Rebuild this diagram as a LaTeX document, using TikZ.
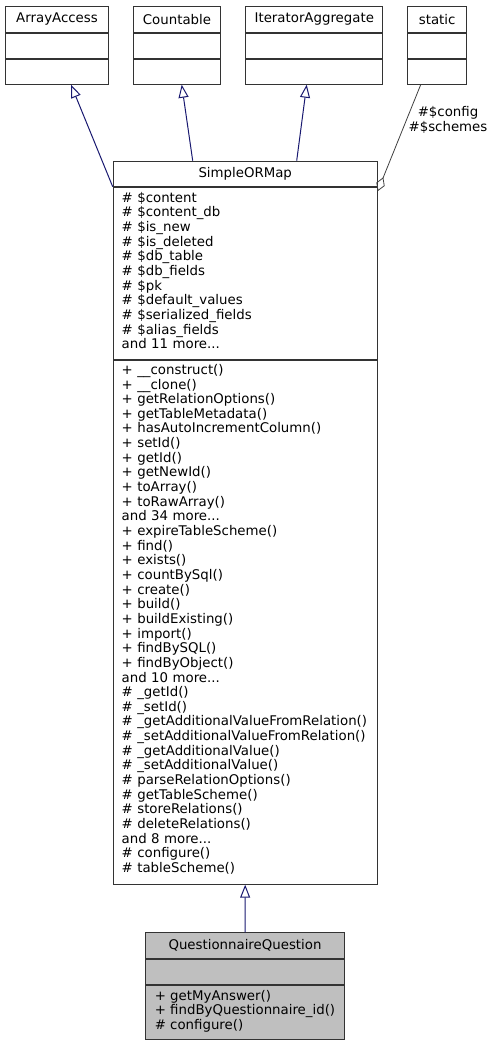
\documentclass[tikz,border=0pt]{standalone}
\usepackage{fontspec}
\setmainfont{DejaVu Sans}
\usetikzlibrary{arrows.meta}
\hyphenpenalty=10000

\definecolor{edgeblue}{HTML}{191970}
\definecolor{usegray}{HTML}{404040}
\definecolor{boxline}{HTML}{333333}
\definecolor{childfill}{HTML}{BFBFBF}

\begin{document}
\begin{tikzpicture}[
    x=1pt, y=-1pt,
    every node/.style = {font=\fontsize{13.33}{14.65}\selectfont},
    part/.style       = {draw=boxline, line width=1pt, fill=white,
                         inner sep=0pt, anchor=north west},
    hdr/.style        = {part, align=center},
    lst/.style        = {part, align=left},
    child/.style      = {fill=childfill},
    inherit/.style    = {draw=edgeblue, line width=1pt,
                         -{Triangle[open, length=13pt, width=10pt]}},
    usage/.style      = {draw=usegray, line width=0.8pt,
                         -{Diamond[open, length=15pt, width=9pt]}},
    ann/.style        = {align=center, inner sep=0pt},
]
\useasboundingbox (0,0) rectangle (491,1044);

% ============================================================
%  INTERFACES  (top row)
% ============================================================

% ---- ArrayAccess -------------------------------------------
\node[hdr, minimum width=103pt, text width=99pt, minimum height=26pt] (aaH) at (5,5.7) {ArrayAccess};
\node[part, minimum width=103pt, minimum height=25pt] (aaA) at (aaH.south west) {};
\node[part, minimum width=103pt, minimum height=25pt] (aaM) at (aaA.south west) {};

% ---- Countable ---------------------------------------------
\node[hdr, minimum width=87.6pt, text width=84pt, minimum height=26pt] (ctH) at (132.7,5.7) {Countable};
\node[part, minimum width=87.6pt, minimum height=25pt] (ctA) at (ctH.south west) {};
\node[part, minimum width=87.6pt, minimum height=25pt] (ctM) at (ctA.south west) {};

% ---- IteratorAggregate -------------------------------------
\node[hdr, minimum width=137pt, text width=133pt, minimum height=26pt] (iaH) at (245.3,5.7) {IteratorAggregate};
\node[part, minimum width=137pt, minimum height=25pt] (iaA) at (iaH.south west) {};
\node[part, minimum width=137pt, minimum height=25pt] (iaM) at (iaA.south west) {};

% ---- static ------------------------------------------------
\node[hdr, minimum width=58.7pt, text width=55pt, minimum height=26pt] (stH) at (407.3,5.7) {static};
\node[part, minimum width=58.7pt, minimum height=25pt] (stA) at (stH.south west) {};
\node[part, minimum width=58.7pt, minimum height=25pt] (stM) at (stA.south west) {};

% ============================================================
%  SimpleORMap
% ============================================================
\node[hdr, minimum width=264pt, text width=260pt, minimum height=25pt] (somH) at (112.7,160.7) {SimpleORMap};
% attributes
\node[lst, minimum width=264pt, text width=247pt, minimum height=172.3pt] (somA) at (somH.south west)
    {\# \$content\\
     \# \$content\_db\\
     \# \$is\_new\\
     \# \$is\_deleted\\
     \# \$db\_table\\
     \# \$db\_fields\\
     \# \$pk\\
     \# \$default\_values\\
     \# \$serialized\_fields\\
     \# \$alias\_fields\\
     and 11 more...\rule[-6pt]{0pt}{0pt}};
% methods
\node[lst, minimum width=264pt, text width=247pt, minimum height=523.7pt] (somM) at (somA.south west)
    {+ \_\_construct()\\
     + \_\_clone()\\
     + getRelationOptions()\\
     + getTableMetadata()\\
     + hasAutoIncrementColumn()\\
     + setId()\\
     + getId()\\
     + getNewId()\\
     + toArray()\\
     + toRawArray()\\
     and 34 more...\\
     + expireTableScheme()\\
     + find()\\
     + exists()\\
     + countBySql()\\
     + create()\\
     + build()\\
     + buildExisting()\\
     + import()\\
     + findBySQL()\\
     + findByObject()\\
     and 10 more...\\
     \# \_getId()\\
     \# \_setId()\\
     \# \_getAdditionalValueFromRelation()\\
     \# \_setAdditionalValueFromRelation()\\
     \# \_getAdditionalValue()\\
     \# \_setAdditionalValue()\\
     \# parseRelationOptions()\\
     \# getTableScheme()\\
     \# storeRelations()\\
     \# deleteRelations()\\
     and 8 more...\\
     \# configure()\\
     \# tableScheme()\rule[-8pt]{0pt}{0pt}};

% ============================================================
%  QuestionnaireQuestion  (highlighted class)
% ============================================================
\node[hdr, child, minimum width=198.4pt, text width=194pt, minimum height=25.7pt] (qqH) at (145.3,932.3) {QuestionnaireQuestion};
\node[part, child, minimum width=198.4pt, minimum height=25.3pt] (qqA) at (qqH.south west) {};
\node[lst, child, minimum width=198.4pt, minimum height=54pt] (qqM) at (qqA.south west)
    {+ getMyAnswer()\\
     + findByQuestionnaire\_id()\\
     \# configure()\rule[-6pt]{0pt}{0pt}};

% ============================================================
%  RELATIONS
% ============================================================
\draw[inherit] (somH.south west) -- ([xshift=66pt]aaM.south west);
\draw[inherit] ([xshift=80pt]somH.north west) -- ([xshift=49pt]ctM.south west);
\draw[inherit] ([xshift=184pt]somH.north west) -- ([xshift=61.4pt]iaM.south west);
\draw[inherit] (qqH.north) -- (somM.south);

% ---- static members used by SimpleORMap --------------------
\draw[usage] ([xshift=13.4pt]stM.south west) -- ([yshift=-4.5pt]somH.south east);
\node[ann] (cfgLbl) at (448,119.7) {\#\$config\\\#\$schemes};

\end{tikzpicture}
\end{document}
